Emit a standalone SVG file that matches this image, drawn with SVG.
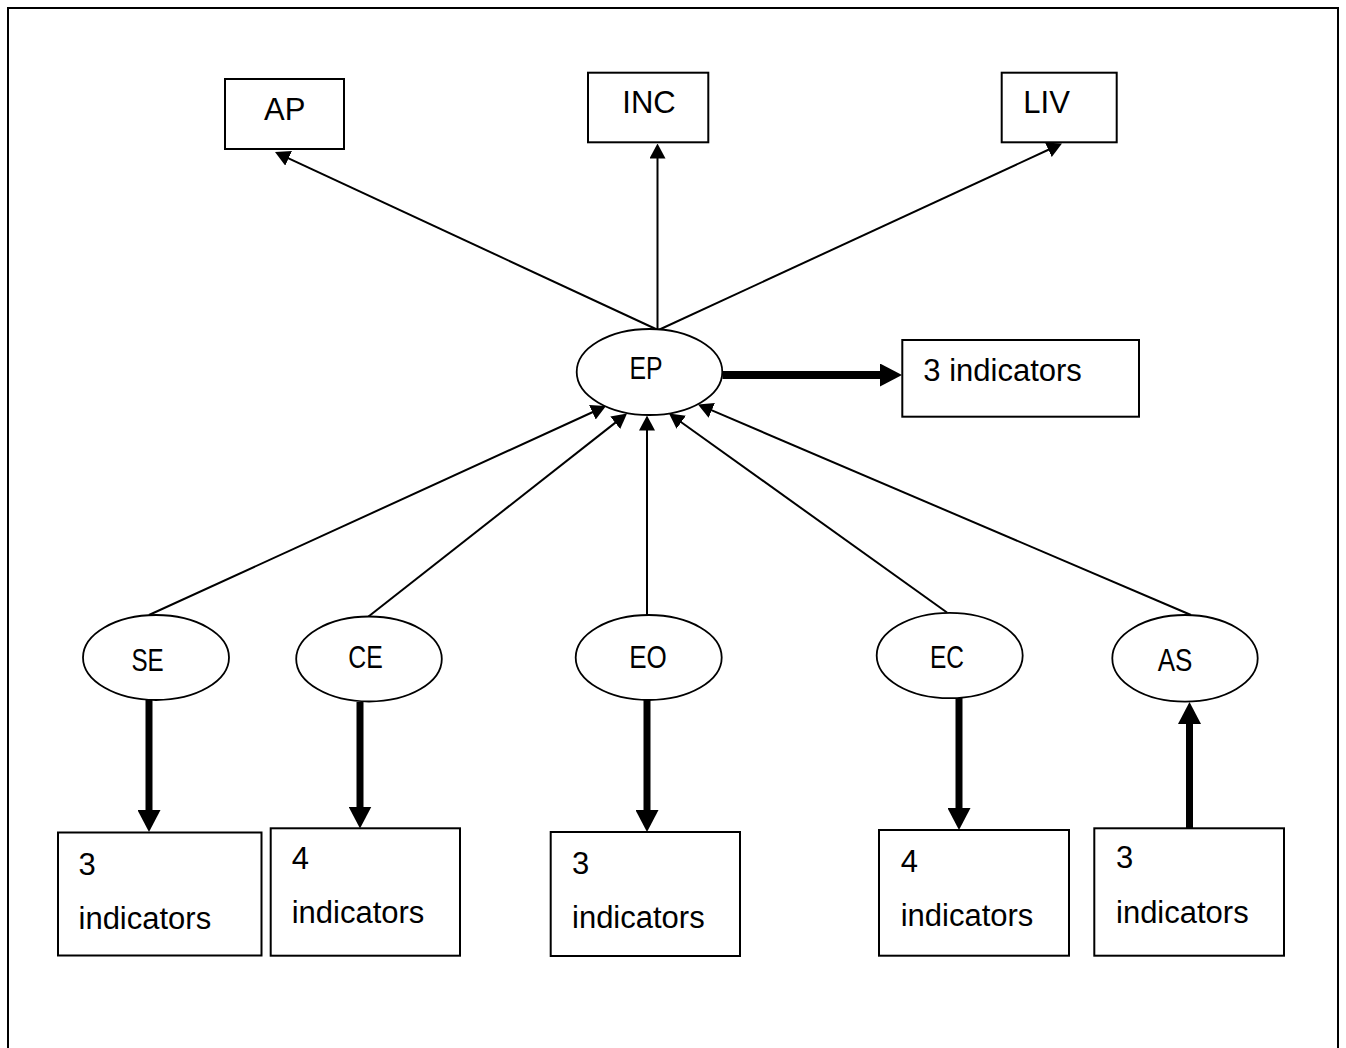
<svg xmlns="http://www.w3.org/2000/svg" width="1346" height="1048" viewBox="0 0 1346 1048">
<style>
  .box { fill: #fff; stroke: #000; stroke-width: 2; }
  .ell { fill: #fff; stroke: #000; stroke-width: 1.8; }
  .t { font-family: "Liberation Sans", Arial, sans-serif; font-size: 31px; fill: #000; }
  .lbl { font-family: "Liberation Sans", Arial, sans-serif; font-size: 31px; fill: #000; text-anchor: middle; }
  .thin { stroke: #000; stroke-width: 2; fill: none; marker-end: url(#ah); }
  .thick { stroke: #000; stroke-width: 7; fill: none; marker-end: url(#ahb); }
</style>
<defs>
  <marker id="ah" markerUnits="userSpaceOnUse" markerWidth="15" markerHeight="16" refX="3" refY="8" orient="auto">
    <path d="M0,0 L15,8 L0,16 z" fill="#000"/>
  </marker>
  <marker id="ahb" markerUnits="userSpaceOnUse" markerWidth="22" markerHeight="23" refX="2" refY="11.5" orient="auto">
    <path d="M0,0 L22,11.5 L0,23 z" fill="#000"/>
  </marker>
</defs>
<rect x="8" y="8" width="1330" height="1070" fill="#fff" stroke="#000" stroke-width="2"/>

<g id="connectors">
  <line class="thin" x1="658" y1="330" x2="285.9" y2="157.1"/>
  <line class="thin" x1="657.5" y1="330" x2="657.5" y2="155.5"/>
  <line class="thin" x1="658.5" y1="330" x2="1051.1" y2="148.5"/>
  <line class="thin" x1="149" y1="615" x2="595.1" y2="411"/>
  <line class="thin" x1="368.5" y1="616.5" x2="617.6" y2="420.9"/>
  <line class="thin" x1="647" y1="615" x2="647" y2="427.5"/>
  <line class="thin" x1="947" y1="612.5" x2="678.8" y2="420.5"/>
  <line class="thin" x1="1191" y1="615" x2="709" y2="409.2"/>
  <line class="thick" style="stroke-width:8" x1="722.5" y1="375" x2="882" y2="375"/>
  <line class="thick" x1="149" y1="700" x2="149" y2="812"/>
  <line class="thick" x1="360" y1="702" x2="360" y2="808.5"/>
  <line class="thick" x1="647" y1="700" x2="647" y2="812"/>
  <line class="thick" x1="959" y1="698" x2="959" y2="810"/>
  <line class="thick" x1="1189.5" y1="828.5" x2="1189.5" y2="722"/>
</g>

<g id="AP"><rect class="box" x="225" y="79" width="119" height="70"/><text class="t" x="264" y="120">AP</text></g>
<g id="INC"><rect class="box" x="588" y="72.7" width="120.3" height="69.6"/><text class="t" x="622.3" y="113.3">INC</text></g>
<g id="LIV"><rect class="box" x="1001.7" y="72.7" width="115" height="69.6"/><text class="t" x="1023.3" y="113.3">LIV</text></g>

<g id="EP"><ellipse class="ell" cx="649.5" cy="372" rx="72.8" ry="43"/><text class="lbl" transform="translate(646,379.3) scale(0.8,1)">EP</text></g>
<g id="EP_ind"><rect class="box" x="902.3" y="340" width="236.7" height="76.7"/><text class="t" x="923.3" y="380.7">3 indicators</text></g>

<g id="SE"><ellipse class="ell" cx="156" cy="657.5" rx="73" ry="42.5"/><text class="lbl" transform="translate(147.5,671) scale(0.78,1)">SE</text></g>
<g id="CE"><ellipse class="ell" cx="369" cy="659" rx="72.8" ry="42.5"/><text class="lbl" transform="translate(365.5,668) scale(0.8,1)">CE</text></g>
<g id="EO"><ellipse class="ell" cx="648.7" cy="657.5" rx="73" ry="42.5"/><text class="lbl" transform="translate(648,668) scale(0.84,1)">EO</text></g>
<g id="EC"><ellipse class="ell" cx="949.7" cy="655.5" rx="73" ry="42.7"/><text class="lbl" transform="translate(947,668) scale(0.79,1)">EC</text></g>
<g id="AS"><ellipse class="ell" cx="1185" cy="658.3" rx="72.7" ry="43.3"/><text class="lbl" transform="translate(1175,671) scale(0.84,1)">AS</text></g>

<g id="SE_ind"><rect class="box" x="58" y="832.5" width="203.5" height="123"/><text class="t" x="78.5" y="875">3</text><text class="t" x="78.5" y="929">indicators</text></g>
<g id="CE_ind"><rect class="box" x="270.7" y="828.3" width="189.3" height="127.4"/><text class="t" x="291.7" y="869.3">4</text><text class="t" x="291.7" y="923.3">indicators</text></g>
<g id="EO_ind"><rect class="box" x="550.7" y="832" width="189.3" height="124"/><text class="t" x="572" y="874">3</text><text class="t" x="572" y="928">indicators</text></g>
<g id="EC_ind"><rect class="box" x="879" y="830" width="190" height="125.7"/><text class="t" x="900.7" y="871.7">4</text><text class="t" x="900.7" y="926">indicators</text></g>
<g id="AS_ind"><rect class="box" x="1094.3" y="828.3" width="189.7" height="127.4"/><text class="t" x="1116" y="868.3">3</text><text class="t" x="1116" y="923.3">indicators</text></g>
</svg>
